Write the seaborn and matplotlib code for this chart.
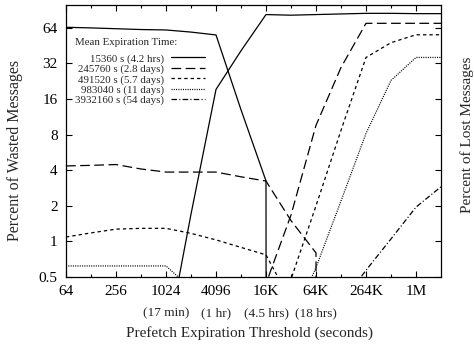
import numpy as np
import pandas as pd
import matplotlib
matplotlib.use("Agg")
import matplotlib.pyplot as plt
import matplotlib.transforms as mtransforms
from matplotlib.lines import Line2D
from matplotlib.ticker import NullLocator, FixedLocator, NullFormatter
import seaborn as sns

# ---------------- data ----------------
thresholds = [64, 128, 256, 512, 1024, 2048, 4096, 8192, 16384, 32768,
              65536, 131072, 262144, 524288, 1048576, 2097152]

series_labels = ["15360 s (4.2 hrs)", "245760 s (2.8 days)", "491520 s (5.7 days)",
                 "983040 s (11 days)", "3932160 s (54 days)"]

wasted_15360 = [64.8, 64, 63, 62, 61.5, 59, 55.8, 13, 3.25, 0, 0, 0, 0, 0, 0, 0]
lost_15360 = [0, 0, 0, 0, 0.13, 1.7, 19.3, 41, 83, 82, 83, 84, 85, 85, 84.5, 84.5]

wasted_245760 = [4.35, 4.4, 4.47, 4.1, 3.86, 3.86, 3.86, 3.52, 3.24, 1.5, 0.8, 0, 0, 0, 0, 0]
lost_245760 = [0, 0, 0, 0, 0, 0, 0, 0, 0.44, 1.67, 9.6, 29.6, 70, 70, 70, 70]

wasted_491520 = [1.09, 1.18, 1.27, 1.29, 1.29, 1.17, 1.03, 0.89, 0.77, 0.31, 0, 0, 0, 0, 0, 0]
lost_491520 = [0, 0, 0, 0, 0, 0, 0, 0, 0, 0.48, 2.0, 8.7, 36, 48, 56, 56]

wasted_983040 = [0.62, 0.62, 0.62, 0.62, 0.62, 0.4, 0, 0, 0, 0, 0, 0, 0, 0, 0, 0]
lost_983040 = [0, 0, 0, 0, 0, 0, 0, 0, 0, 0.2, 0.6, 2.2, 8.2, 23, 36, 36]

wasted_3932160 = [0, 0, 0, 0, 0, 0, 0, 0, 0, 0, 0, 0, 0, 0, 0, 0]
lost_3932160 = [0, 0, 0, 0, 0, 0, 0, 0, 0, 0, 0, 0.3, 0.57, 1.05, 1.95, 2.9]

xtick_values = [64, 256, 1024, 4096, 16384, 65536, 262144, 1048576]
xtick_labels = ["64", "256", "1024", "4096", "16K", "64K", "264K", "1M"]
xminor_values = [128, 512, 2048, 8192, 32768, 131072, 524288]
xsub_values = [1024, 4096, 16384, 65536]
xsub_labels = ["(17 min)", "(1 hr)", "(4.5 hrs)", "(18 hrs)"]
ytick_values = [0.5, 1, 2, 4, 8, 16, 32, 64]
ytick_labels = ["0.5", "1", "2", "4", "8", "16", "32", "64"]

curves = {
    series_labels[0]: (wasted_15360, lost_15360),
    series_labels[1]: (wasted_245760, lost_245760),
    series_labels[2]: (wasted_491520, lost_491520),
    series_labels[3]: (wasted_983040, lost_983040),
    series_labels[4]: (wasted_3932160, lost_3932160),
}
rows = []
for lab, (w, l) in curves.items():
    for kind, vals in (("wasted", w), ("lost", l)):
        for t, v in zip(thresholds, vals):
            rows.append({"threshold": t, "percent": v, "series": lab,
                         "curve": lab + "|" + kind})
df = pd.DataFrame(rows)

# ---------------- style ----------------
sns.set_theme(style="ticks")
plt.rcParams["font.family"] = ["Liberation Serif", "DejaVu Serif"]
plt.rcParams["lines.scale_dashes"] = False
plt.rcParams["axes.linewidth"] = 0.9

dash_map = {
    series_labels[0]: "",
    series_labels[1]: (7.0, 3.2),
    series_labels[2]: (2.4, 2.2),
    series_labels[3]: (0.75, 0.9),
    series_labels[4]: (4.0, 1.6, 0.8, 1.6),
}
LW = 0.9

fig = plt.figure(figsize=(4.74, 3.46), dpi=100)
ax = fig.add_axes([66 / 474, 1 - 277 / 346, 375 / 474, 272 / 346])
ax.set_xscale("log", base=2)
ax.set_yscale("log", base=2)

sns.lineplot(data=df, x="threshold", y="percent", style="series", units="curve",
             estimator=None, dashes=dash_map, color="black", linewidth=LW,
             legend=False, ax=ax, sort=True)

ax.set_xlim(64, 2097152)
ax.set_ylim(0.5, 100)

ax.xaxis.set_major_locator(FixedLocator(xtick_values))
ax.set_xticklabels(xtick_labels)
ax.xaxis.set_minor_locator(FixedLocator(xminor_values))
ax.xaxis.set_minor_formatter(NullFormatter())
ax.yaxis.set_major_locator(FixedLocator(ytick_values))
ax.set_yticklabels(ytick_labels)
ax.yaxis.set_minor_locator(NullLocator())
ax.yaxis.set_minor_formatter(NullFormatter())
ax.tick_params(which="both", direction="in", top=True, right=True,
               colors="black", labelsize=11)
ax.tick_params(which="major", length=4, width=0.8)
ax.tick_params(which="minor", length=2.5, width=0.8)
ax.tick_params(axis="x", which="major", pad=6)
ax.tick_params(axis="y", which="major", pad=6)
for s in ax.spines.values():
    s.set_color("black")

trans = mtransforms.blended_transform_factory(ax.transData, ax.transAxes)
for xv, sl in zip(xsub_values, xsub_labels):
    ax.text(xv, -0.132, sl, transform=trans, ha="center", va="center", fontsize=9.5)

ax.set_xlabel("Prefetch Expiration Threshold (seconds)", fontsize=11)
ax.xaxis.set_label_coords(0.49, -0.18)
ax.set_ylabel("Percent of Wasted Messages", fontsize=11.5)
ax.yaxis.set_label_coords(-0.115, 0.465)

fig.text(467 / 474, 1 - 135 / 346, "Percent of Lost Messages", rotation=90,
         ha="center", va="center", fontsize=11)

handles = []
for lab in series_labels:
    h = Line2D([], [], color="black", linewidth=LW)
    if dash_map[lab]:
        h.set_dashes(dash_map[lab])
    handles.append(h)
leg = ax.legend(handles, series_labels, title="Mean Expiration Time:",
                loc="upper left", bbox_to_anchor=(0.025, 0.877), frameon=False,
                markerfirst=False, fontsize=7.8, title_fontsize=7.8,
                handlelength=3.2, handletextpad=0.6, labelspacing=0.06,
                borderpad=0, borderaxespad=0, alignment="left")
leg._legend_box.sep = 4.5

fig.savefig("out.png", dpi=100)
